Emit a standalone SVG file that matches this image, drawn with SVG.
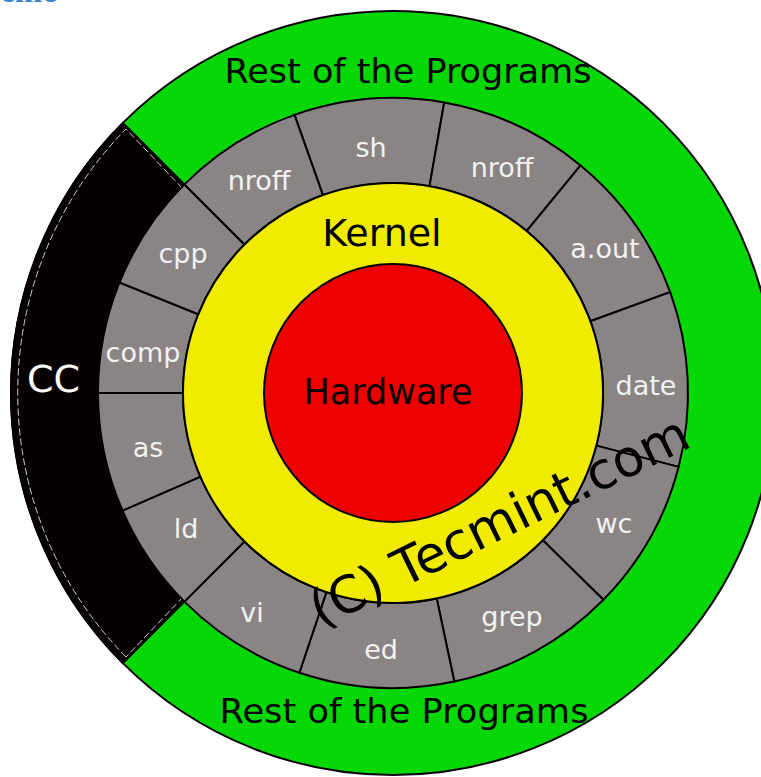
<svg xmlns="http://www.w3.org/2000/svg" width="761" height="777" viewBox="0 0 761 777">
<style>
.seg{fill:#8a8584;stroke:#000;stroke-width:2}
.lbl{font-family:"DejaVu Sans",sans-serif;font-size:27px;fill:#f2f2f2;text-anchor:middle}
.big{font-family:"DejaVu Sans",sans-serif;fill:#000}
</style>
<rect width="761" height="777" fill="#fff"/>
<text x="57" y="1.5" font-family="Liberation Serif, serif" font-weight="bold" font-size="33" fill="#3d7fd0" text-anchor="end">eme</text>
<g id="rest">
<circle cx="393" cy="393" r="382" fill="#07d607" stroke="#000" stroke-width="2"/>
<text class="big" x="408" y="83" font-size="33" text-anchor="middle" textLength="367" lengthAdjust="spacingAndGlyphs">Rest of the Programs</text>
<text class="big" x="404" y="723" font-size="33" text-anchor="middle" textLength="369" lengthAdjust="spacingAndGlyphs">Rest of the Programs</text>
</g>
<g id="cc">
<path d="M122.9 663.1A382 382 0 0 1 122.9 122.9L184.4 184.4A295 295 0 0 0 184.4 601.6Z" fill="#070000" stroke="#000" stroke-width="2"/>
<path d="M126 657A376 376 0 0 1 126 129L183 189A289 289 0 0 0 183 597Z" fill="none" stroke="#fff" stroke-width="1" stroke-dasharray="7 3" opacity="0.8"/>
<text x="27" y="392" font-family="DejaVu Sans, sans-serif" font-size="38" fill="#fff">CC</text>
</g>
<g id="programs">
<g id="seg-sh"><path class="seg" d="M294.5 114.9A295 295 0 0 1 444.2 102.5L429.5 186.2A210 210 0 0 0 322.9 195.1Z"/><text class="lbl" x="371" y="157">sh</text></g>
<g id="seg-nroff2"><path class="seg" d="M444.2 102.5A295 295 0 0 1 580.6 165.4L526.6 231A210 210 0 0 0 429.5 186.2Z"/><text class="lbl" x="502" y="177">nroff</text></g>
<g id="seg-aout"><path class="seg" d="M580.6 165.4A295 295 0 0 1 670.2 292.1L590.3 321.2A210 210 0 0 0 526.6 231Z"/><text class="lbl" x="605" y="258">a.out</text></g>
<g id="seg-date"><path class="seg" d="M670.2 292.1A295 295 0 0 1 678.6 466.9L596.3 445.6A210 210 0 0 0 590.3 321.2Z"/><text class="lbl" x="646" y="395">date</text></g>
<g id="seg-wc"><path class="seg" d="M678.6 466.9A295 295 0 0 1 603.4 599.8L542.8 540.2A210 210 0 0 0 596.3 445.6Z"/><text class="lbl" x="614" y="533">wc</text></g>
<g id="seg-grep"><path class="seg" d="M603.4 599.8A295 295 0 0 1 454.3 681.6L436.7 598.4A210 210 0 0 0 542.8 540.2Z"/><text class="lbl" x="512" y="626">grep</text></g>
<g id="seg-ed"><path class="seg" d="M454.3 681.6A295 295 0 0 1 299.4 672.8L326.4 592.1A210 210 0 0 0 436.7 598.4Z"/><text class="lbl" x="381" y="659">ed</text></g>
<g id="seg-vi"><path class="seg" d="M299.4 672.8A295 295 0 0 1 184.4 601.6L244.5 541.5A210 210 0 0 0 326.4 592.1Z"/><text class="lbl" x="252" y="622">vi</text></g>
<g id="seg-ld"><path class="seg" d="M184.4 601.6A295 295 0 0 1 122.5 510.6L200.4 476.7A210 210 0 0 0 244.5 541.5Z"/><text class="lbl" x="186" y="538">ld</text></g>
<g id="seg-as"><path class="seg" d="M122.5 510.6A295 295 0 0 1 98 393L183 393A210 210 0 0 0 200.4 476.7Z"/><text class="lbl" x="148" y="457">as</text></g>
<g id="seg-comp"><path class="seg" d="M98 393A295 295 0 0 1 119.5 282.5L198.3 314.3A210 210 0 0 0 183 393Z"/><text class="lbl" x="143" y="362">comp</text></g>
<g id="seg-cpp"><path class="seg" d="M119.5 282.5A295 295 0 0 1 184.4 184.4L244.5 244.5A210 210 0 0 0 198.3 314.3Z"/><text class="lbl" x="183" y="263">cpp</text></g>
<g id="seg-nroff1"><path class="seg" d="M184.4 184.4A295 295 0 0 1 294.5 114.9L322.9 195.1A210 210 0 0 0 244.5 244.5Z"/><text class="lbl" x="259" y="190">nroff</text></g>
</g>
<g id="kernel">
<circle cx="393" cy="393" r="210" fill="#f0eb00" stroke="#000" stroke-width="2"/>
<text class="big" x="382" y="246" font-size="38" text-anchor="middle">Kernel</text>
</g>
<g id="hardware">
<circle cx="393" cy="393" r="129" fill="#ee0000" stroke="#000" stroke-width="2"/>
<text class="big" x="388" y="404" font-size="35" text-anchor="middle">Hardware</text>
</g>
<g id="connectors"></g>
<text class="big" transform="translate(507 537) rotate(-26)" font-size="51" text-anchor="middle">(C) Tecmint.com</text>
</svg>
